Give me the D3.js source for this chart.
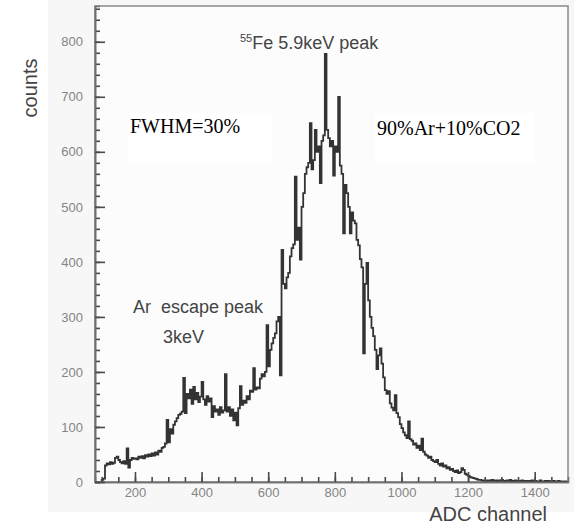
<!DOCTYPE html>
<html>
<head>
<meta charset="utf-8">
<script src="https://cdn.jsdelivr.net/npm/d3@7"></script>
<style>
  body { margin: 0; background: #fff; }
  svg { display: block; }
</style>
</head>
<body>
<div id="chart"></div>
<script>
// histogram: first bin edge, bin width (ADC channels), counts per bin
let binStart = 100
let binWidth = 5
let counts = [
  4, 6, 30, 34, 32, 36, 33, 35, 44, 46,          // 100-145
  40, 36, 34, 38, 33, 61, 26, 40, 44, 42,        // 150-195
  43, 41, 46, 44, 47, 43, 49, 46, 50, 47,        // 200-245
  52, 48, 54, 50, 57, 55, 62, 64, 70, 113,       // 250-295
  72, 96, 88, 104, 110, 116, 122, 124, 128, 189, // 300-345
  125, 160, 152, 168, 142, 173, 150, 162, 145, 155, // 350-395
  182, 150, 140, 156, 146, 152, 118, 138, 128, 132, // 400-445
  122, 136, 126, 130, 196, 128, 136, 120, 132, 112, // 450-495
  126, 103, 134, 174, 140, 148, 144, 156, 150, 166, // 500-545
  164, 207, 168, 172, 170, 188, 196, 192, 200, 285, // 550-595
  210, 240, 252, 262, 270, 292, 300, 194, 422, 360, // 600-645
  352, 372, 380, 410, 425, 432, 555, 440, 462, 404, // 650-695
  500, 525, 560, 572, 580, 652, 568, 585, 640, 600, // 700-745
  610, 543, 620, 630, 778, 640, 625, 610, 620, 557, // 750-795
  610, 600, 700, 575, 560, 452, 540, 525, 500, 452, // 800-845
  490, 475, 470, 440, 430, 405, 390, 234, 360, 398, // 850-895
  330, 300, 280, 265, 240, 205, 230, 243, 215, 190, // 900-945
  167, 160, 165, 143, 135, 130, 158, 125, 118, 105, // 950-995
  98, 90, 85, 80, 110, 78, 75, 68, 70, 62,       // 1000-1045
  66, 58, 79, 55, 50, 48, 44, 46, 40, 38,        // 1050-1095
  36, 40, 33, 30, 34, 28, 30, 25, 27, 22,        // 1100-1145
  24, 20, 18, 21, 16, 18, 25, 22, 15, 13,        // 1150-1195
  11, 9, 8, 7, 6, 5, 4, 4, 3, 2,                 // 1200-1245
  3, 2, 3, 2, 4, 2, 3, 1, 3, 2,                  // 1250-1295
  4, 2, 1, 3, 2, 4, 1, 2, 3, 1,                  // 1300-1345
  2, 1, 3, 1, 2, 0, 2, 1, 3, 1,                  // 1350-1395
  2, 0, 1, 3, 1, 0, 2, 1, 2, 0,                  // 1400-1445
  1, 2, 0, 1, 2, 0, 1, 0, 1, 0                   // 1450-1495
]
let xTicks = [200, 400, 600, 800, 1000, 1200, 1400]
let yTicks = [0, 100, 200, 300, 400, 500, 600, 700, 800]

let W = 574, H = 526
let margin = { top: 6, right: 6, bottom: 44, left: 95 }

let svg = d3.select('#chart')
  .append('svg')
  .attr('width', W)
  .attr('height', H)
  .style('font-family', '"Liberation Sans", Arial, sans-serif')

// light grey scan background
svg.append('rect')
  .attr('x', 48).attr('y', 0)
  .attr('width', W - 48).attr('height', 512)
  .attr('fill', '#f7f7f7')

let x = d3.scaleLinear().domain([80, 1500]).range([margin.left, W - margin.right])
let y = d3.scaleLinear().domain([0, 865]).range([H - margin.bottom, margin.top])

svg.append('rect')
  .attr('x', x(80)).attr('y', y(865))
  .attr('width', x(1500) - x(80))
  .attr('height', y(0) - y(865))
  .attr('fill', '#fcfcfc')
  .attr('stroke', '#8f8f8f')
  .attr('stroke-width', 1.6)

// white text boxes
svg.append('rect').attr('x', 128).attr('y', 113).attr('width', 144).attr('height', 50).attr('fill', '#fff')
svg.append('rect').attr('x', 375).attr('y', 113).attr('width', 160).attr('height', 50).attr('fill', '#fff')

// step histogram
let pts = [[binStart, 0]]
counts.forEach((c, i) => pts.push([binStart + i * binWidth, c]))
pts.push([binStart + counts.length * binWidth, counts[counts.length - 1]])

let line = d3.line()
  .x(d => x(d[0]))
  .y(d => y(d[1]))
  .curve(d3.curveStepAfter)

svg.append('path')
  .attr('d', line(pts))
  .attr('fill', 'none')
  .attr('stroke', '#333')
  .attr('stroke-width', 1.8)
  .attr('stroke-linejoin', 'miter')

// axes, ticks pointing inward
let styleAxis = g => {
  g.select('.domain').attr('stroke', '#707070').attr('stroke-width', 1.6)
  g.selectAll('.tick line').attr('stroke', '#4a4a4a').attr('stroke-width', 1.6)
  g.selectAll('.tick text').attr('fill', '#858585').attr('font-size', 13)
}

svg.append('g')
  .attr('transform', `translate(0,${y(0)})`)
  .call(d3.axisBottom(x).tickValues(d3.range(100, 1500, 50)).tickSize(-5).tickFormat(''))
  .call(styleAxis)
svg.append('g')
  .attr('transform', `translate(0,${y(0)})`)
  .call(d3.axisBottom(x).tickValues(xTicks).tickSize(-10).tickPadding(6).tickSizeOuter(0).tickFormat(d3.format('d')))
  .call(styleAxis)

svg.append('g')
  .attr('transform', `translate(${x(80)},0)`)
  .call(d3.axisLeft(y).tickValues(d3.range(0, 861, 20)).tickSize(-5).tickFormat(''))
  .call(styleAxis)
svg.append('g')
  .attr('transform', `translate(${x(80)},0)`)
  .call(d3.axisLeft(y).tickValues(yTicks).tickSize(-10).tickPadding(12).tickSizeOuter(0))
  .call(styleAxis)

// axis titles
svg.append('text')
  .attr('transform', 'translate(37,88) rotate(-90)')
  .attr('text-anchor', 'middle')
  .attr('font-size', 20)
  .attr('fill', '#444')
  .text('counts')

svg.append('text')
  .attr('x', 547).attr('y', 521)
  .attr('text-anchor', 'end')
  .attr('font-size', 20)
  .attr('fill', '#444')
  .text('ADC channel')

// annotations
let peak = svg.append('text')
  .attr('x', 240).attr('y', 49)
  .attr('font-size', 18)
  .attr('fill', '#444')
peak.append('tspan').attr('font-size', 11).attr('dy', -7).text('55')
peak.append('tspan').attr('dy', 7).text('Fe 5.9keV peak')

svg.append('text')
  .attr('x', 133).attr('y', 313)
  .attr('font-size', 18)
  .attr('fill', '#444')
  .style('white-space', 'pre')
  .text('Ar  escape peak')

svg.append('text')
  .attr('x', 163).attr('y', 343)
  .attr('font-size', 18)
  .attr('fill', '#444')
  .text('3keV')

svg.append('text')
  .attr('x', 130).attr('y', 133)
  .attr('font-family', '"Liberation Serif", "Times New Roman", serif')
  .attr('font-size', 20)
  .attr('fill', '#000')
  .text('FWHM=30%')

svg.append('text')
  .attr('x', 377).attr('y', 135)
  .attr('font-family', '"Liberation Serif", "Times New Roman", serif')
  .attr('font-size', 20)
  .attr('fill', '#000')
  .text('90%Ar+10%CO2')
</script>
</body>
</html>
